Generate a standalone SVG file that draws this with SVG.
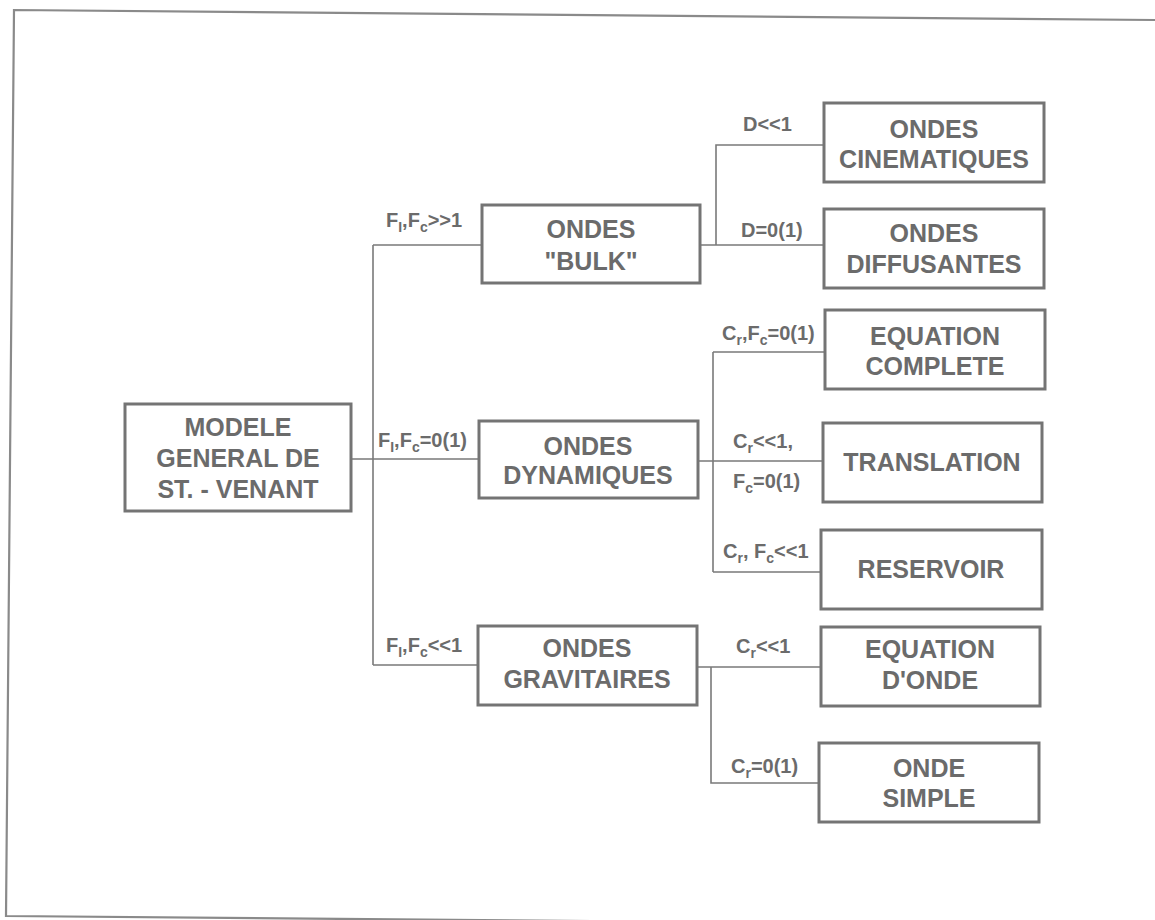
<svg xmlns="http://www.w3.org/2000/svg" width="1155" height="920" viewBox="0 0 1155 920">
<style>
.frame{fill:none;stroke:#8a8a8a;stroke-width:2.2}
.box{fill:#fff;stroke:#747474;stroke-width:3}
.con{fill:none;stroke:#7a7a7a;stroke-width:1.6}
.t{font-family:"Liberation Sans",Arial,sans-serif;font-weight:bold;font-size:25px;fill:#6b6b6b;text-anchor:middle}
.l{font-family:"Liberation Sans",Arial,sans-serif;font-weight:bold;font-size:20px;fill:#6b6b6b}
.s{font-size:14px}
</style>
<rect width="1155" height="920" fill="#fff"/>
<path class="frame" d="M1155,20 L14,10 L6,916 L1155,926"/>
<g id="connectors">
<path class="con" d="M373,245 V665 M373,245 H482 M351,459 H479 M373,665 H478"/>
<path class="con" d="M700,245 H824 M716,245 V145 H824"/>
<path class="con" d="M698,461 H823 M713,352 V572 M713,352 H825 M713,572 H821"/>
<path class="con" d="M697,667 H821 M711,667 V783 H819"/>
<text class="l" x="386" y="227">F<tspan class="s" dy="5">I</tspan><tspan dy="-5">,F</tspan><tspan class="s" dy="5">c</tspan><tspan dy="-5">&gt;&gt;1</tspan></text>
<text class="l" x="378" y="447">F<tspan class="s" dy="5">I</tspan><tspan dy="-5">,F</tspan><tspan class="s" dy="5">c</tspan><tspan dy="-5">=0(1)</tspan></text>
<text class="l" x="386" y="652">F<tspan class="s" dy="5">I</tspan><tspan dy="-5">,F</tspan><tspan class="s" dy="5">c</tspan><tspan dy="-5">&lt;&lt;1</tspan></text>
<text class="l" x="743" y="131">D&lt;&lt;1</text>
<text class="l" x="741" y="237">D=0(1)</text>
<text class="l" x="722" y="340">C<tspan class="s" dy="5">r</tspan><tspan dy="-5">,F</tspan><tspan class="s" dy="5">c</tspan><tspan dy="-5">=0(1)</tspan></text>
<text class="l" x="733" y="448">C<tspan class="s" dy="5">r</tspan><tspan dy="-5">&lt;&lt;1,</tspan></text>
<text class="l" x="733" y="488">F<tspan class="s" dy="5">c</tspan><tspan dy="-5">=0(1)</tspan></text>
<text class="l" x="723" y="558">C<tspan class="s" dy="5">r</tspan><tspan dy="-5">, F</tspan><tspan class="s" dy="5">c</tspan><tspan dy="-5">&lt;&lt;1</tspan></text>
<text class="l" x="736" y="653">C<tspan class="s" dy="5">r</tspan><tspan dy="-5">&lt;&lt;1</tspan></text>
<text class="l" x="731" y="773">C<tspan class="s" dy="5">r</tspan><tspan dy="-5">=0(1)</tspan></text>
</g>
<g id="modele"><rect class="box" x="125" y="404" width="226" height="107"/>
<text class="t" x="238" y="436">MODELE</text><text class="t" x="238" y="467">GENERAL DE</text><text class="t" x="238" y="498">ST. - VENANT</text></g>
<g id="bulk"><rect class="box" x="482" y="205" width="218" height="78"/>
<text class="t" x="591" y="238">ONDES</text><text class="t" x="591" y="270">"BULK"</text></g>
<g id="dynamiques"><rect class="box" x="479" y="421" width="219" height="77"/>
<text class="t" x="588" y="455">ONDES</text><text class="t" x="588" y="484">DYNAMIQUES</text></g>
<g id="gravitaires"><rect class="box" x="478" y="626" width="219" height="79"/>
<text class="t" x="587" y="657">ONDES</text><text class="t" x="587" y="688">GRAVITAIRES</text></g>
<g id="cinematiques"><rect class="box" x="824" y="103" width="220" height="79"/>
<text class="t" x="934" y="138">ONDES</text><text class="t" x="934" y="168">CINEMATIQUES</text></g>
<g id="diffusantes"><rect class="box" x="824" y="209" width="220" height="79"/>
<text class="t" x="934" y="242">ONDES</text><text class="t" x="934" y="273">DIFFUSANTES</text></g>
<g id="complete"><rect class="box" x="825" y="310" width="220" height="79"/>
<text class="t" x="935" y="345">EQUATION</text><text class="t" x="935" y="375">COMPLETE</text></g>
<g id="translation"><rect class="box" x="823" y="423" width="219" height="79"/>
<text class="t" x="932" y="471">TRANSLATION</text></g>
<g id="reservoir"><rect class="box" x="821" y="530" width="221" height="79"/>
<text class="t" x="931" y="578">RESERVOIR</text></g>
<g id="equation-onde"><rect class="box" x="821" y="627" width="219" height="79"/>
<text class="t" x="930" y="658">EQUATION</text><text class="t" x="930" y="689">D'ONDE</text></g>
<g id="onde-simple"><rect class="box" x="819" y="743" width="220" height="79"/>
<text class="t" x="929" y="777">ONDE</text><text class="t" x="929" y="807">SIMPLE</text></g>
</svg>
